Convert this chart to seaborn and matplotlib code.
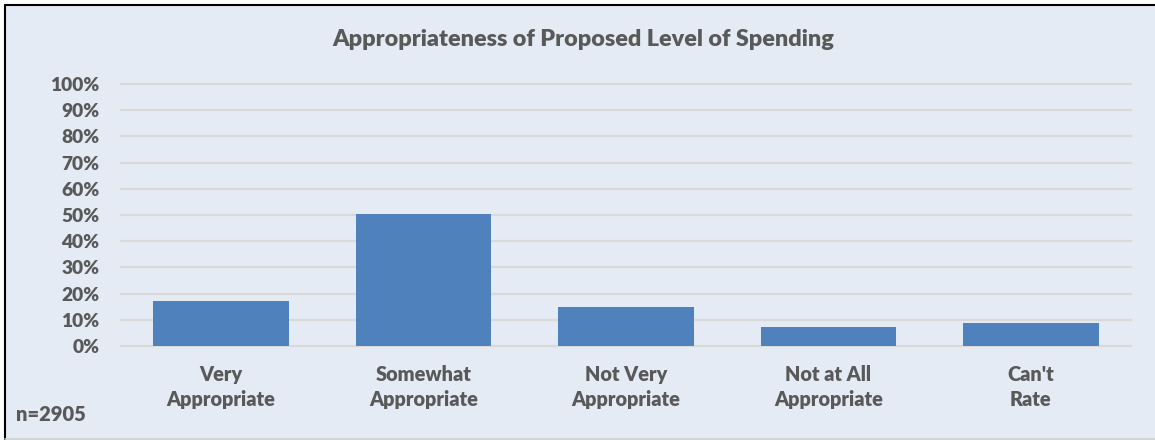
import matplotlib
matplotlib.use("Agg")
import matplotlib.pyplot as plt
from matplotlib.patches import Rectangle
from matplotlib.lines import Line2D
from matplotlib.ticker import MultipleLocator, PercentFormatter
import seaborn as sns
import pandas as pd

# Survey responses: share of respondents per rating
categories = ["Very\nAppropriate", "Somewhat\nAppropriate", "Not Very\nAppropriate",
              "Not at All\nAppropriate", "Can't\nRate"]
shares = [0.173, 0.503, 0.148, 0.072, 0.088]
title = "Appropriateness of Proposed Level of Spending"
sample_note = "n=2905"

BG = "#E4EBF5"
BAR = "#4F81BD"
GRID = "#D9D9D9"
TEXT = "#595959"
WEIGHT = "heavy"

sns.set_theme(style="white")
plt.rcParams["font.family"] = ["Lato", "DejaVu Sans"]
plt.rcParams["font.weight"] = "bold"

W, H = 1155, 440
fig = plt.figure(figsize=(W / 100, H / 100), dpi=100)
fig.patch.set_facecolor("white")

# chart area panel with a dark frame on the top and left
fig.add_artist(Rectangle((5 / W, 0), 1 - 5 / W, 1 - 5 / H, transform=fig.transFigure,
                         facecolor=BG, edgecolor="none", zorder=-10))
fig.add_artist(Line2D([5 / W, 1], [1 - 5 / H, 1 - 5 / H], transform=fig.transFigure,
                      color="black", lw=1.5))
fig.add_artist(Line2D([5 / W, 5 / W], [0, 1 - 5 / H], transform=fig.transFigure,
                      color="black", lw=1.5))
fig.add_artist(Line2D([5 / W, 1], [1.5 / H, 1.5 / H], transform=fig.transFigure,
                      color="#D0D0D0", lw=1.2))

# axes geometry in pixels
px_zero = 346          # y of 0%
px_per_unit = 262      # pixels for 100%
y_lo, y_hi = -0.02, 1.03
left, right = 120, 1132
bottom_px = H - px_zero - (-y_lo) * px_per_unit
height_px = (y_hi - y_lo) * px_per_unit
ax = fig.add_axes([left / W, bottom_px / H, (right - left) / W, height_px / H])
ax.set_facecolor("none")

df = pd.DataFrame({"category": categories, "share": shares})
sns.barplot(data=df, x="category", y="share", color=BAR, saturation=1,
            width=0.67, ax=ax, zorder=3, linewidth=0, edgecolor=BAR)

ax.set_ylim(y_lo, y_hi)
ax.set_xlim(-0.5, len(categories) - 0.5)
ax.yaxis.set_major_locator(MultipleLocator(0.1))
ax.yaxis.set_major_formatter(PercentFormatter(1.0, decimals=0))
ax.grid(axis="y", color=GRID, lw=1.6, zorder=0)
ax.set_axisbelow(True)
for s in ax.spines.values():
    s.set_visible(False)
ax.set_xlabel("")
ax.set_ylabel("")
ax.tick_params(axis="y", length=0, pad=15, labelsize=13.8, labelcolor=TEXT)
ax.tick_params(axis="x", length=0, pad=10, labelsize=14.3, labelcolor=TEXT)
for lab in ax.get_yticklabels():
    lab.set_fontweight(WEIGHT)
for lab in ax.get_xticklabels():
    lab.set_fontweight(WEIGHT)
    lab.set_linespacing(1.38)

fig.text(583 / W, 1 - 40 / H, title, ha="center", va="center",
         fontsize=16.8, fontweight=WEIGHT, color=TEXT)
fig.text(16 / W, 1 - 414 / H, sample_note, ha="left", va="center",
         fontsize=14.5, fontweight=WEIGHT, color=TEXT)

fig.savefig("out.png", dpi=100)
